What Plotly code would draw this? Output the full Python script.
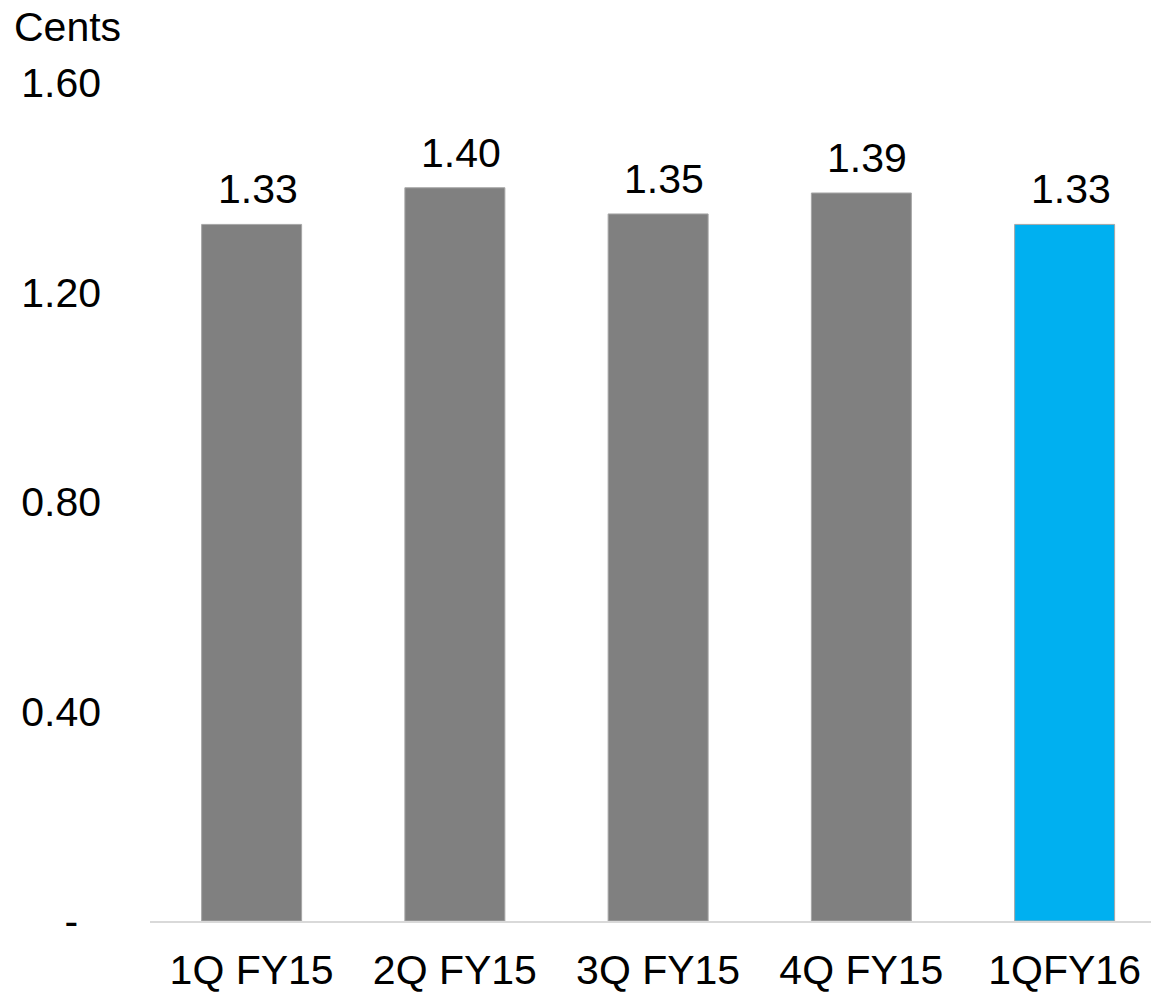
import plotly.graph_objects as go

# Quarterly values in cents
quarters = ["1Q FY15", "2Q FY15", "3Q FY15", "4Q FY15", "1QFY16"]
cents = [1.33, 1.40, 1.35, 1.39, 1.33]
bar_colors = ["#808080", "#808080", "#808080", "#808080", "#00B0F0"]

tick_vals = [0, 0.4, 0.8, 1.2, 1.6]
tick_text = ["-\u00a0\u00a0", "0.40", "0.80", "1.20", "1.60"]

FONT = dict(family="Liberation Sans, Arial, sans-serif", size=41, color="#000000")

W, H = 1151, 992
M_L, M_R, M_T, M_B = 150, 0, 83, 71
plot_w = W - M_L - M_R
plot_h = H - M_T - M_B

fig = go.Figure(
    go.Bar(
        x=list(range(len(quarters))),
        y=cents,
        marker=dict(color=bar_colors, line=dict(color="#A6A6A6", width=1)),
        hoverinfo="skip",
    )
)

# value labels above each bar
for i, v in enumerate(cents):
    fig.add_annotation(
        x=i, y=v, text=f"{v:.2f}", showarrow=False,
        xanchor="center", yanchor="bottom", xshift=6, yshift=10,
        font=FONT,
    )

# unit label at the top left
fig.add_annotation(
    xref="paper", yref="paper",
    x=(12 - M_L) / plot_w, y=1 + (M_T - 27) / plot_h,
    text="Cents", showarrow=False, xanchor="left", yanchor="middle",
    font=FONT,
)

fig.update_layout(
    width=W, height=H,
    margin=dict(l=M_L, r=M_R, t=M_T, b=M_B, autoexpand=False),
    paper_bgcolor="white", plot_bgcolor="white",
    bargap=0.508,
    showlegend=False,
    font=FONT,
)
fig.update_xaxes(
    range=[-0.5, -0.5 + plot_w / 203.25],
    tickmode="array", tickvals=list(range(len(quarters))), ticktext=quarters,
    showline=True, linecolor="#D9D9D9", linewidth=2,
    showgrid=False, zeroline=False, ticks="", ticklabelstandoff=12,
    tickfont=FONT, automargin=False,
)
fig.update_yaxes(
    range=[0, 1.6],
    tickmode="array", tickvals=tick_vals, ticktext=tick_text,
    showline=False, showgrid=False, zeroline=False, ticks="",
    ticklabelstandoff=48, tickfont=FONT, automargin=False,
)

fig.write_html("out.html")
